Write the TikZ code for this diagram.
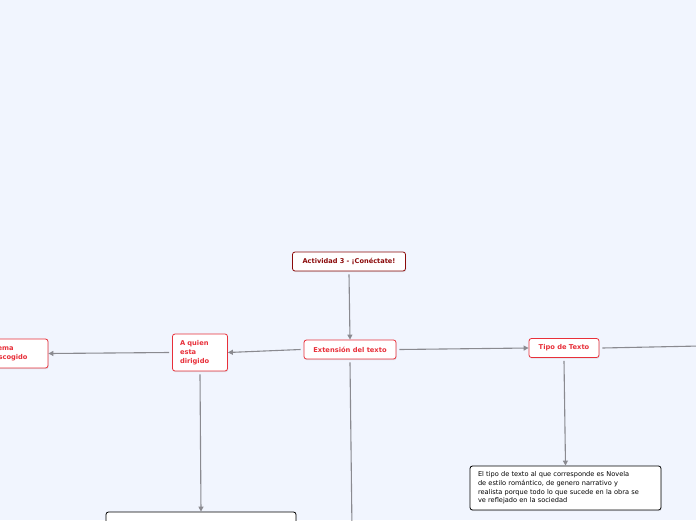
\documentclass[tikz,border=0pt]{standalone}
\usepackage{fontspec}
\setmainfont{DejaVu Sans}
\usetikzlibrary{arrows.meta,shadows}
\definecolor{bgblue}{HTML}{F1F5FE}
\definecolor{topicred}{HTML}{E8303A}
\definecolor{mainred}{HTML}{8B0A0A}
\definecolor{linkgray}{HTML}{8A8A90}
\begin{document}
\begin{tikzpicture}[x=1pt,y=-1pt]
% Mind map, laid out in pixels of the 696x520 frame (y grows downwards).
\fill[bgblue] (0,0) rectangle (696,520);
\clip (0,0) rectangle (696,520);

\tikzset{
  card/.style={fill=white,rounded corners=2.5pt,line width=0.8pt,inner sep=0pt,
    drop shadow={opacity=0.18,shadow xshift=0.6pt,shadow yshift=-1.2pt}},
  central/.style={card,draw=mainred,text=mainred,font=\fontsize{6.6}{8}\selectfont\bfseries,
    minimum width=113pt,minimum height=19pt},
  topic/.style={card,draw=topicred,text=topicred,font=\fontsize{6.7}{8.8}\selectfont\bfseries,
    minimum height=19pt},
  note/.style={card,draw=black,text=black,font=\fontsize{6.6}{8.7}\selectfont,align=left},
  link/.style={linkgray,line width=1.1pt,-{Triangle[length=5pt,width=5pt]}},
  plainlink/.style={linkgray,line width=1.1pt}
}

% Main topic and its branches.
\node[central] (act) at (349,261.5) {Actividad 3 - ¡Conéctate!};
\node[topic,minimum width=92pt] (ext) at (350,349.5) {Extensión del texto};
\node[topic,minimum width=70pt] (tipo) at (564,348) {Tipo de Texto};
\node[topic,minimum width=55pt,minimum height=37pt,align=left,text width=40pt] (quien) at (200,352.5) {A quien\\esta\\dirigido};
\node[topic,minimum width=61pt,minimum height=29pt,align=left,text width=47pt] (tema) at (17.5,353.5) {Tema\\escogido};

% Notes.
\node[note,minimum width=191pt,minimum height=44pt,text width=175pt] (texto) at (565.5,488) {El tipo de texto al que corresponde es Novela\\de estilo romántico, de genero narrativo y\\realista porque todo lo que sucede en la obra se\\ve reflejado en la sociedad};
\node[note,minimum width=190pt,minimum height=40pt] (dirig) at (201,532) {};

% Free ends that leave the frame.
\coordinate (right) at (700,346);
\coordinate (down) at (352,530);

% Connectors.
\draw[link] (act.south) ++(0,3) -- (ext.north);
\draw[link] (ext.west) ++(-3,0) -- (quien.east);
\draw[link] (quien.west) ++(-3,0) -- (tema.east);
\draw[link] (ext.east) ++(3,0) -- (tipo.west);
\draw[plainlink] (tipo.east) ++(3,0) -- (right);
\draw[link] (tipo.south) ++(0,3) -- (texto.north);
\draw[link] (quien.south) ++(0,3) -- (dirig.north);
\draw[plainlink] (ext.south) ++(0,3) -- (down);
\end{tikzpicture}
\end{document}
